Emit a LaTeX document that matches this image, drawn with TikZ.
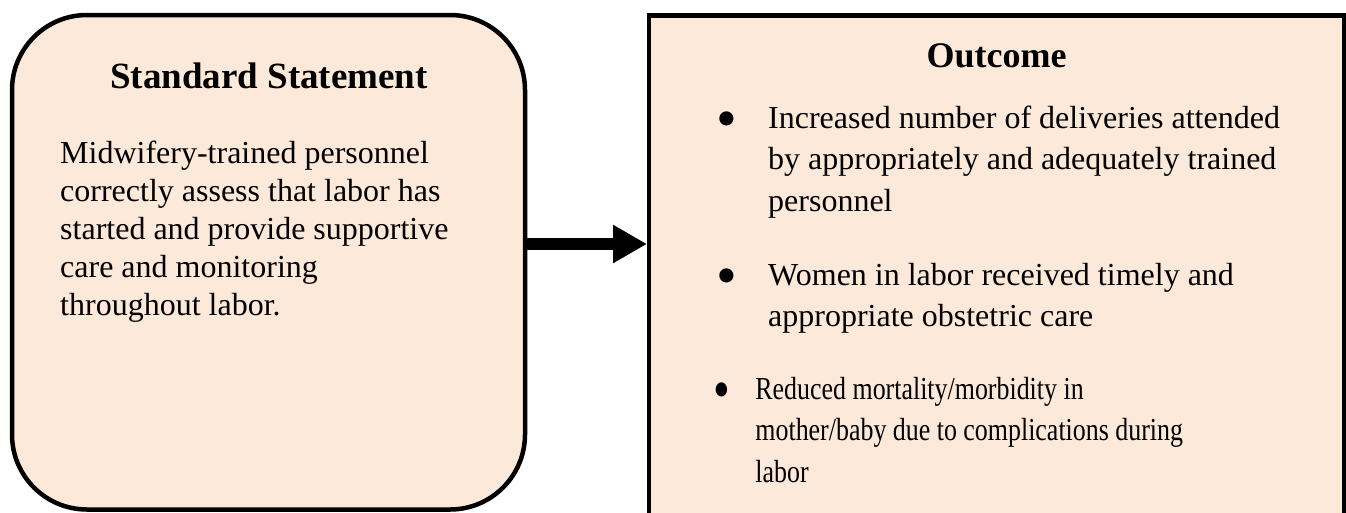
\documentclass[tikz,border=0pt]{standalone}
\usepackage{fontspec}
\usepackage{graphicx}
\setmainfont{Liberation Serif}
\usetikzlibrary{arrows.meta}
\definecolor{peach}{HTML}{FDE9D9}
\setlength\parindent{0pt}
% large round bullet, sitting a little above the baseline
\newcommand\bigbullet{\raisebox{-10.5pt}{\scalebox{1.85}{\textbullet}}}
% bulleted paragraph with a hanging indent for the wrapped lines
\newcommand\bulletpara[1]{\parbox[t]{600pt}{\fontsize{32}{41.5}\selectfont
  \hangindent=51.4pt\hangafter=1\makebox[51.4pt][l]{\bigbullet}#1}}

\begin{document}
\begin{tikzpicture}[x=1pt,y=-1pt,
  panel/.style={draw=black, line width=4.5pt, fill=peach, inner sep=0pt, outer sep=0pt},
  heading/.style={font=\fontsize{37}{44}\selectfont\bfseries, inner sep=0pt, anchor=base},
  body/.style={inner sep=0pt, anchor=base west},
  bigarrow/.style={line width=12pt, shorten >=2pt, -{Triangle[length=34pt,width=36pt]}}]
\useasboundingbox (0,0) rectangle (1346,512);

% the two panels
\node[panel, rounded corners=75pt, minimum width=513pt, minimum height=494.5pt] (std) at (268.5,262.25) {};
\node[panel, minimum width=695pt, minimum height=540pt] (out) at (996.5,285.5) {};

% connector between the panels
\coordinate (arrowrow) at (0,244);
\draw[bigarrow] (std.east |- arrowrow) -- (out.west |- arrowrow);

% left panel text
\node[heading] (stdtitle) at (269,88) {Standard Statement};
\node[body] (stdtext) at (60,163) {\parbox[t]{460pt}{\fontsize{32}{38}\selectfont
  Midwifery-trained personnel\\
  correctly assess that labor has\\
  started and provide supportive\\
  care and monitoring\\
  throughout labor.}};

% right panel text
\node[heading, font=\fontsize{36}{43}\selectfont\bfseries] (outtitle) at (996.5,67) {Outcome};
\node[body] (item1) at (716.6,128) {\bulletpara{Increased number of deliveries attended\newline
  by appropriately and adequately trained\newline personnel}};
\node[body] (item2) at (716.6,285) {\bulletpara{Women in labor received timely and\newline
  appropriate obstetric care}};
\node[body] (item3) at (713.6,399) {\scalebox{0.81}[1]{\bulletpara{Reduced mortality/morbidity in\newline
  mother/baby due to complications during\newline labor}}};
\end{tikzpicture}
\end{document}
